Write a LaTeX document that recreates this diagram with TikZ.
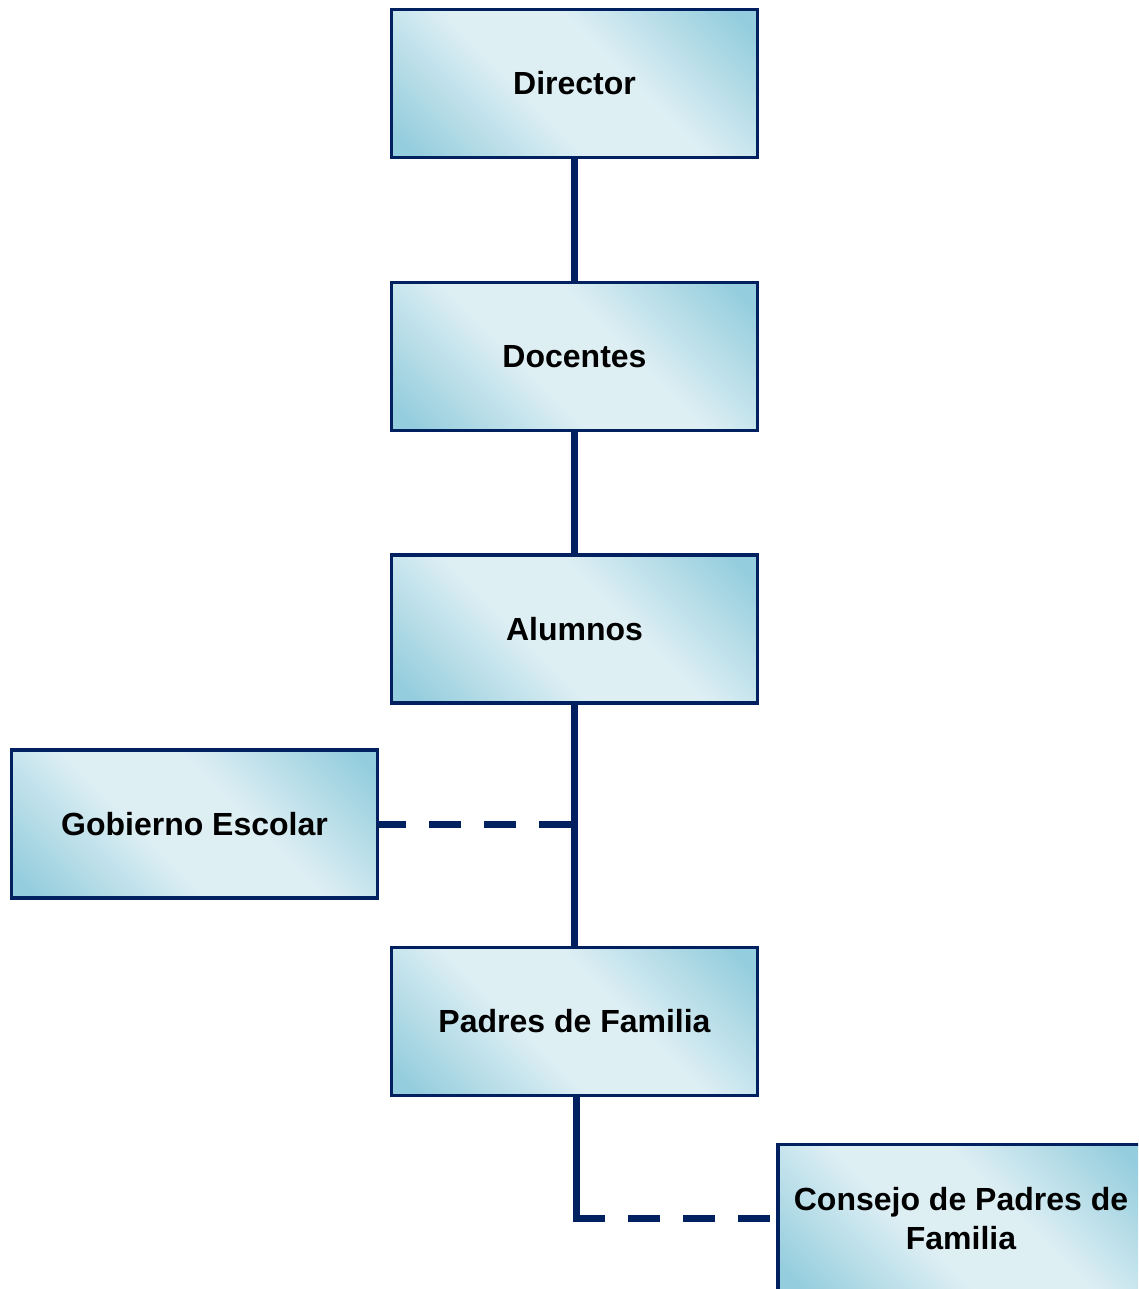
\documentclass[tikz,border=0pt]{standalone}
\usepackage{fontspec}
\setmainfont{Liberation Sans}
\definecolor{navy}{RGB}{0,32,96}
\definecolor{shdark}{RGB}{148,205,221}
\definecolor{shlight}{RGB}{222,239,244}
\pgfdeclarehorizontalshading{boxshade}{100bp}{color(0bp)=(shdark); color(18bp)=(shdark); color(42bp)=(shlight); color(58bp)=(shlight); color(82bp)=(shdark); color(100bp)=(shdark)}
\tikzset{
  orgbox/.style={draw=navy, line width=3.5pt, shading=boxshade, shading angle=45,
    minimum width=366pt, minimum height=148pt, inner sep=0pt, align=center,
    font=\fontsize{32}{39}\selectfont\bfseries},
  conn/.style={draw=navy, line width=7pt},
  dconn/.style={draw=navy, line width=7pt, dash pattern=on 32pt off 23pt}
}
\begin{document}
\begin{tikzpicture}[x=1pt,y=-1pt]
\useasboundingbox (0,0) rectangle (1138,1289);
\clip (0,0) rectangle (1138,1289);
\node[orgbox] (director) at (574.5,83.5) {Director};
\node[orgbox] (docentes) at (574.5,356.5) {Docentes};
\node[orgbox] (alumnos) at (574.5,629) {Alumnos};
\node[orgbox] (gobierno) at (194.5,824) {Gobierno Escolar};
\node[orgbox] (padres) at (574.5,1021.5) {Padres de Familia};
\node[orgbox] (consejo) at (961,1218.5) {Consejo de Padres de\\Familia};
\draw[conn] (director.south) -- (docentes.north);
\draw[conn] (docentes.south) -- (alumnos.north);
\draw[conn] (alumnos.south) -- (padres.north);
\coordinate (gj) at (gobierno.east -| alumnos.south);
\draw[dconn] ([xshift=-4pt]gj) -- (gobierno.east);
\coordinate (pc) at ([xshift=2pt]padres.south |- consejo.west);
\draw[conn] ([xshift=2pt]padres.south) -- ([yshift=3.5pt]pc);
\draw[dconn] ([xshift=-3.5pt]pc) -- (consejo.west);
\end{tikzpicture}
\end{document}
